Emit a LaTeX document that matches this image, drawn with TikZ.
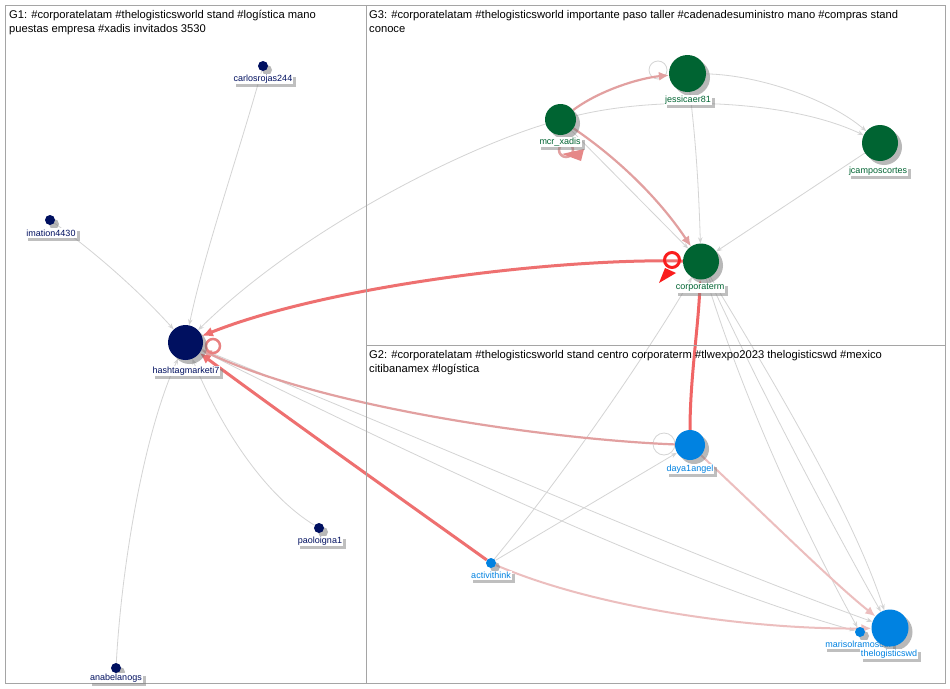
\documentclass[tikz,border=0pt]{standalone}
\usepackage{fontspec}
\setmainfont{Liberation Sans}
\usetikzlibrary{arrows.meta,shadows,calc}
\pgfdeclarelayer{back}
\pgfdeclarelayer{bg}
\pgfsetlayers{back,bg,main}
\definecolor{gnavy}{RGB}{0,16,96}
\definecolor{ggreen}{RGB}{0,100,50}
\definecolor{gblue}{RGB}{0,130,225}
\definecolor{panel}{RGB}{165,165,165}
\definecolor{edgegray}{RGB}{212,212,212}
\definecolor{redS}{RGB}{238,112,112}
\definecolor{redB}{RGB}{250,30,30}
\definecolor{pinkM}{RGB}{226,160,160}
\definecolor{pinkL}{RGB}{236,190,190}
\tikzset{
  vert/.style={circle, inner sep=0pt, minimum size=#1,
    drop shadow={shadow xshift=4pt, shadow yshift=-4pt, fill=black!55}},
  lbl/.style={fill=white, inner sep=1.2pt, font=\fontsize{9}{10}\selectfont,
    drop shadow={shadow xshift=3pt, shadow yshift=-3pt, fill=black!50}},
  hdr/.style={anchor=base west, inner sep=0pt, font=\fontsize{11.2}{13}\selectfont},
  ge/.style={draw=edgegray, line width=0.8pt, -{Stealth[length=6pt,width=4.5pt]}},
  thickred/.style={draw=redS, line width=3pt, -{Latex[length=11pt,width=10pt]}},
  pinkedge/.style={draw=pinkM, line width=2.2pt, -{Latex[length=10pt,width=9pt]}},
  lightedge/.style={draw=pinkL, line width=2pt, -{Latex[length=10pt,width=9pt]}},
  panelbox/.style={draw=panel, line width=0.8pt}
}
\begin{document}
\begin{tikzpicture}[x=1pt,y=-1pt]
\begin{pgfonlayer}{back}
\fill[white] (0,0) rectangle (950,688);
\end{pgfonlayer}
\useasboundingbox (0,0) rectangle (950,688);
% panels
\draw[panelbox] (5,5) rectangle (366,683);
\draw[panelbox] (366,5) rectangle (945,345);
\draw[panelbox] (366,345) rectangle (945,683);
% headers
\node[hdr] (h1a) at (9,18.5) {G1: \#corporatelatam \#thelogisticsworld stand \#logística mano};
\node[hdr] (h1b) at (9,32.5) {puestas empresa \#xadis invitados 3530};
\node[hdr] (h3a) at (369,18.5) {G3: \#corporatelatam \#thelogisticsworld importante paso taller \#cadenadesuministro mano \#compras stand};
\node[hdr] (h3b) at (369,32.5) {conoce};
\node[hdr] (h2a) at (369,358.5) {G2: \#corporatelatam \#thelogisticsworld stand centro corporaterm \#tlwexpo2023 thelogisticswd \#mexico};
\node[hdr] (h2b) at (369,372.5) {citibanamex \#logística};
% vertices
\node[vert=35pt, fill=gnavy] (hash) at (185.5,342.5) {};
\node[vert=10pt, fill=gnavy] (carl) at (263,66) {};
\node[vert=10pt, fill=gnavy] (imat) at (50,220) {};
\node[vert=10pt, fill=gnavy] (paolo) at (319,528) {};
\node[vert=10pt, fill=gnavy] (anab) at (116,668) {};
\node[vert=31pt, fill=ggreen] (mcr) at (560.5,119.5) {};
\node[vert=37pt, fill=ggreen] (jess) at (687.5,73.5) {};
\node[vert=36pt, fill=ggreen] (jcamp) at (880,143) {};
\node[vert=36pt, fill=ggreen] (corp) at (701,261.5) {};
\node[vert=30pt, fill=gblue] (daya) at (690,445) {};
\node[vert=10pt, fill=gblue] (act) at (491,563) {};
\node[vert=10pt, fill=gblue] (maris) at (860,632) {};
% labels
\node[lbl, text=gnavy] (hashL) at (186,371) {hashtagmarketi7};
\node[lbl, text=gnavy] (carlL) at (263,79) {carlosrojas244};
\node[lbl, text=gnavy] (imatL) at (51,233) {imation4430};
\node[lbl, text=gnavy] (paoloL) at (320,541) {paoloigna1};
\node[lbl, text=gnavy] (anabL) at (116,678) {anabelanogs};
\node[lbl, text=ggreen] (mcrL) at (560,142) {mcr\_xadis};
\node[lbl, text=ggreen] (jessL) at (688,100) {jessicaer81};
\node[lbl, text=ggreen] (jcampL) at (878,171) {jcamposcortes};
\node[lbl, text=ggreen] (corpL) at (700,288) {corporaterm};
\node[lbl, text=gblue] (dayaL) at (690,469) {daya1angel};
\node[lbl, text=gblue] (actL) at (491,575) {activithink};
\node[lbl, text=gblue, anchor=west] (marisL) at (824,644) {marisolramoscor};
\node[vert=37pt, fill=gblue] (thelog) at (890,628) {};
\node[lbl, text=gblue] (thelogL) at (889,654) {thelogisticswd};
% edges
\begin{pgfonlayer}{bg}
% gray G1
\draw[ge] (carl) .. controls (240,150) and (205,250) .. (hash);
\draw[ge] (imat) .. controls (95,252) and (140,292) .. (hash);
\draw[ge] (paolo) .. controls (265,495) and (222,430) .. (hash);
\draw[ge] (anab) .. controls (122,560) and (145,430) .. (hash);
\draw[ge] (mcr) .. controls (460,150) and (300,230) .. (hash);
\draw[ge] (hash) .. controls (450,450) and (700,560) .. (thelog);
\draw[ge] (hash) .. controls (440,470) and (690,585) .. (maris);
% gray G3
\draw[ge] (mcr) .. controls (660,95) and (790,100) .. (jcamp);
\draw[ge] (jess) .. controls (760,75) and (830,100) .. (jcamp);
\draw[ge] (jess) .. controls (697,150) and (699,200) .. (corp);
\draw[ge] (jcamp) -- (corp);
\draw[ge] (mcr) -- (corp);
% gray G2
\draw[ge] (act) .. controls (560,480) and (650,350) .. (corp);
\draw[ge] (act) -- (daya);
\draw[ge] (corp) .. controls (785,400) and (855,520) .. (thelog);
\draw[ge] (corp) .. controls (765,400) and (835,530) .. (thelog);
\draw[ge] (corp) .. controls (750,420) and (820,560) .. (maris);
% gray loops
\draw[edgegray, line width=0.8pt] ([shift={(-29.5,-3.5)}]jess.center) circle[radius=9];
\draw[edgegray, line width=0.8pt] ([shift={(-26,-1)}]daya.center) circle[radius=11];
% red / pink
\draw[lightedge] (daya) .. controls (760,510) and (830,580) .. (thelog);
\draw[lightedge] (act) .. controls (600,610) and (760,630) .. (thelog);
\draw[pinkedge] (daya) .. controls (560,440) and (330,410) .. (hash);
\draw[pinkedge] (mcr) .. controls (600,90) and (640,78) .. (jess);
\draw[pinkedge] (mcr) .. controls (620,160) and (660,200) .. (corp);
\draw[thickred] (corp) .. controls (560,258) and (330,285) .. (hash);
\draw[thickred] (act) .. controls (410,505) and (290,420) .. (hash);
\draw[thickred, draw=redS!90!red] (daya) .. controls (690,380) and (698,330) .. (corp);
% loops red
\draw[pinkM!80!red, line width=2.5pt] ([shift={(27.5,3.5)}]hash.center) circle[radius=7];
\draw[pinkM, line width=2.5pt] ([shift={(5.5,30.5)}]mcr.center) circle[radius=7];
\fill[pinkM!85!red] ([shift={(1.5,34.5)}]mcr.center) -- ([shift={(23.5,29.5)}]mcr.center) -- ([shift={(20.5,41.5)}]mcr.center) -- cycle;
\end{pgfonlayer}
\draw[redB, line width=3pt] ([shift={(-29,-1.5)}]corp.center) circle[radius=7.5];
\fill[redB] ([shift={(-42,21.5)}]corp.center) -- ([shift={(-36,6.5)}]corp.center) -- ([shift={(-25,11.5)}]corp.center) -- cycle;
\end{tikzpicture}
\end{document}
